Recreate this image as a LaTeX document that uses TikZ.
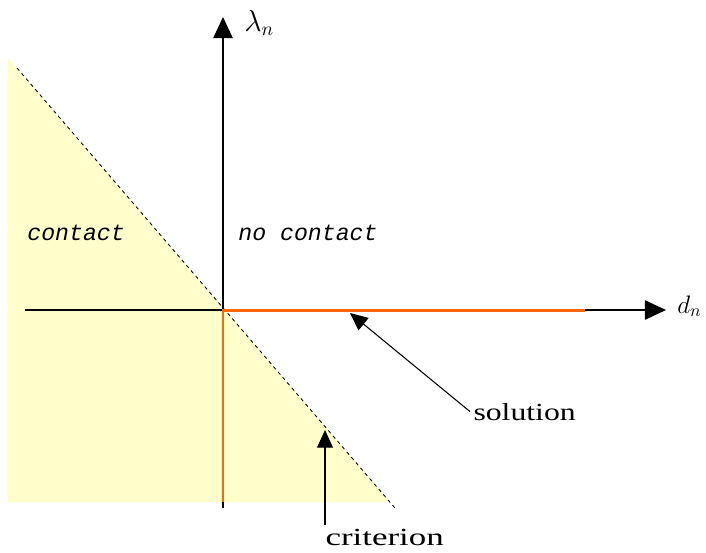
\documentclass[tikz,border=0pt]{standalone}
\usepackage{amsmath}
\usepackage{fontspec}
\usepackage{tikz}
\usetikzlibrary{arrows.meta}
\newfontfamily\regionfont{Liberation Mono}
\newfontfamily\labelfont{Liberation Serif}
\definecolor{solcolor}{RGB}{255,102,0}
\definecolor{contactfill}{RGB}{255,255,204}

\begin{document}
\begin{tikzpicture}[x=0.02cm, y=-0.02cm,
        axis/.style={line width=0.8pt, -{Triangle[length=12pt,width=11pt]}},
        pointer/.style={line width=0.6pt, -{Triangle[length=10pt,width=9pt]}},
        solline/.style={solcolor, line width=1.7pt},
        regiontext/.style={font=\regionfont\itshape\fontsize{13.2}{15}\selectfont,
            inner sep=0pt, anchor=base west},
        labeltext/.style={font=\labelfont\fontsize{14}{16}\selectfont,
            inner sep=0pt, outer sep=2pt, anchor=base west}]
            \useasboundingbox (0,0) rectangle (706,552);
            % contact region and criterion
            \fill[contactfill] (8,58) -- (390,502) -- (8,502) -- cycle;
            \draw[dash pattern=on 2pt off 2pt, line width=0.5pt] (17,68) -- (395,508);
            % axes
            \coordinate (o) at (223,310);
            \coordinate (xtail) at (25,310);
            \coordinate (xtip) at (666,310);
            \coordinate (ytail) at (223,508);
            \coordinate (ytip) at (223,17);
            \draw[axis] (xtail) -- (xtip);
            \draw[axis] (ytail) -- (ytip);
            \node[anchor=base west, inner sep=0pt, font=\fontsize{16}{18}\selectfont]
                (lam) at (244,31) {$\lambda_n$};
            \node[anchor=base west, inner sep=0pt, font=\fontsize{14}{16}\selectfont]
                (dn) at (677,313) {$d_n$};
            % solution
            \coordinate (solend) at (585,310);
            \coordinate (solbot) at (223,502);
            \draw[solline] (solbot) -- (o) -- (solend);
            \node[regiontext] (cont) at (27,240) {contact};
            \node[regiontext] (nocont) at (238,240) {no contact};
            \node[labeltext] (sol) at (470,420) {\scalebox{1.29}[1]{solution}};
            \node[labeltext] (crit) at (322,545) {\scalebox{1.42}[1]{criterion}};
            \coordinate (soltip) at (350,313);
            \coordinate (crittip) at (325,430);
            \draw[pointer] (sol.west) -- (soltip);
            \draw[pointer] (crit.north -| crittip) -- (crittip);
        \end{tikzpicture}
\end{document}
